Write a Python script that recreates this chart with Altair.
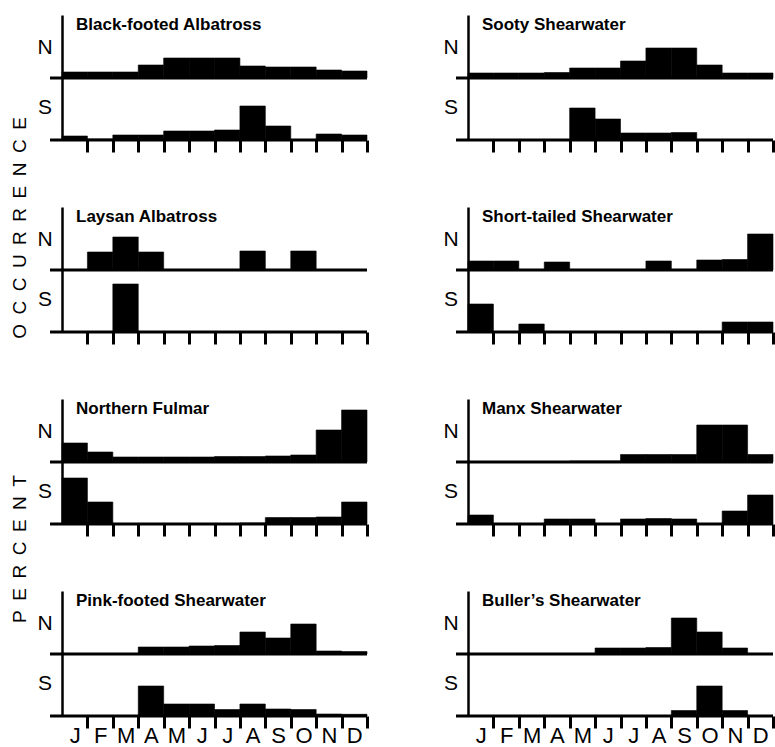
import altair as alt
import pandas as pd

# ---------------- data (percent occurrence by month, N and S) ----------------
MONTHS = ["J", "F", "M", "A", "M", "J", "J", "A", "S", "O", "N", "D"]

LEFT_SPECIES = ["Black-footed Albatross", "Laysan Albatross",
                "Northern Fulmar", "Pink-footed Shearwater"]
RIGHT_SPECIES = ["Sooty Shearwater", "Short-tailed Shearwater",
                 "Manx Shearwater", "Buller\u2019s Shearwater"]

BLACK_FOOTED_N = [6, 6, 6, 13, 20, 20, 20, 12, 11, 11, 8, 7]
BLACK_FOOTED_S = [4, 1, 5, 5, 9, 9, 10, 34, 14, 0.5, 6, 5]
LAYSAN_N = [0, 18, 33, 18, 0, 0, 0, 19, 0, 19, 0, 0]
LAYSAN_S = [0, 0, 48, 0, 0, 0, 0, 0, 0, 0, 0, 0]
FULMAR_N = [19, 10, 5, 5, 5, 5, 5.5, 5.5, 6, 7, 32, 52]
FULMAR_S = [46, 22, 0, 0, 0, 0, 0.5, 1, 6.5, 6.5, 7, 22]
PINK_FOOTED_N = [0, 0, 0.5, 7, 7, 8, 8.5, 22, 16, 30, 3, 2.5]
PINK_FOOTED_S = [0, 0, 0, 30, 12, 12, 6.5, 12, 7, 6.5, 2, 1.7]

SOOTY_N = [5, 5, 5, 5.5, 10, 10, 17, 30, 30, 13, 5, 5]
SOOTY_S = [0, 0, 0, 0, 32, 21, 7, 7, 7.5, 0, 0, 0]
SHORT_TAILED_N = [9, 9, 0, 8, 0, 0, 0, 9, 0, 10, 10.5, 36]
SHORT_TAILED_S = [28, 0, 8, 0, 0, 0, 0, 0, 0, 0, 10, 10]
MANX_N = [0, 0, 0, 0, 1, 1, 7.5, 7.5, 7.5, 37, 37, 7.5]
MANX_S = [9, 0, 0, 5, 5, 0, 5, 5.5, 5, 0, 13, 29]
BULLERS_N = [0, 0, 0, 0, 0.5, 6, 6, 6.5, 36, 22, 6, 0]
BULLERS_S = [0, 0, 0, 0, 0, 0, 0, 0, 5.5, 30, 5.5, 0]

SERIES = {
    "Black-footed Albatross": (BLACK_FOOTED_N, BLACK_FOOTED_S),
    "Laysan Albatross": (LAYSAN_N, LAYSAN_S),
    "Northern Fulmar": (FULMAR_N, FULMAR_S),
    "Pink-footed Shearwater": (PINK_FOOTED_N, PINK_FOOTED_S),
    "Sooty Shearwater": (SOOTY_N, SOOTY_S),
    "Short-tailed Shearwater": (SHORT_TAILED_N, SHORT_TAILED_S),
    "Manx Shearwater": (MANX_N, MANX_S),
    "Buller\u2019s Shearwater": (BULLERS_N, BULLERS_S),
}

# ---------------- layout constants ----------------
PANEL_W = 305
PANEL_H = 125
N_BASE = 62          # y units (≈ px) where the N baseline sits
Y_MAX = 125
FONT = "Liberation Sans"

month_expr = "[" + ",".join("'%s'" % m for m in MONTHS) + "][datum.value - 1]"

yaxis = alt.Axis(domain=True, domainColor="black", domainWidth=2.5, ticks=False,
                 labels=False, grid=False, title=None, minExtent=0)


def xaxis(bottom):
    kw = dict(values=list(range(1, 13)), domain=False, grid=False, ticks=True,
              tickSize=12, tickWidth=3, tickColor="black", title=None, minExtent=0)
    if bottom:
        kw.update(labels=True, labelExpr=month_expr, labelOffset=-12.7,
                  labelFontSize=22, labelFont=FONT, labelColor="black",
                  labelPadding=-3, labelOverlap=False, labelFlush=False,
                  labelBound=False)
    else:
        kw.update(labels=False)
    return alt.Axis(**kw)


def panel(name, bottom, extra_layers=()):
    n_vals, s_vals = SERIES[name]
    rows = []
    for region, vals in (("N", n_vals), ("S", s_vals)):
        for i, v in enumerate(vals):
            rows.append({"month": i, "region": region, "value": v})
    df = pd.DataFrame(rows)
    ax = xaxis(bottom)
    xscale = alt.Scale(domain=[0, 12], nice=False, zero=False)
    yscale = alt.Scale(domain=[0, Y_MAX], nice=False, zero=False)

    bars = alt.Chart(df).mark_bar(color="black", stroke="black", strokeWidth=0.6).transform_calculate(
        x0="datum.month",
        x1="datum.month + 1",
        y0="datum.region == 'N' ? %d : 0" % N_BASE,
        y1="(datum.region == 'N' ? %d : 0) + datum.value" % N_BASE,
    ).encode(
        x=alt.X("x0:Q", scale=xscale, axis=ax),
        x2="x1:Q",
        y=alt.Y("y0:Q", scale=yscale, axis=yaxis),
        y2="y1:Q",
    )

    base_df = pd.DataFrame({"yb": [0, N_BASE]})
    baselines = alt.Chart(base_df).mark_rule(color="black", strokeWidth=3, strokeCap="butt").encode(
        x=alt.value(-12),
        x2=alt.value(PANEL_W),
        y=alt.Y("yb:Q", scale=yscale, axis=yaxis),
    )

    title = alt.Chart(pd.DataFrame({"t": [name]})).mark_text(
        align="left", baseline="middle", font=FONT, fontSize=17, fontWeight="bold", color="black"
    ).encode(x=alt.value(14), y=alt.value(10), text="t:N")

    ns = alt.Chart(pd.DataFrame({"lab": ["N", "S"], "py": [33, 93]})).mark_text(
        align="center", baseline="middle", font=FONT, fontSize=21, color="black"
    ).encode(x=alt.value(-17), y=alt.Y("py:Q", scale=None), text="lab:N")

    return alt.layer(bars, baselines, title, ns, *extra_layers).properties(
        width=PANEL_W, height=PANEL_H)


def side_word(word, py):
    txt = "\u2002".join(word)
    return alt.Chart(pd.DataFrame({"w": [txt]})).mark_text(
        angle=270, align="center", baseline="middle", font=FONT, fontSize=19, color="black"
    ).encode(x=alt.value(-42), y=alt.value(py), text="w:N")


panels = []
for k in range(4):
    extra = []
    if k == 1:
        extra = [side_word("OCCURRENCE", 21)]
    if k == 2:
        extra = [side_word("PERCENT", 150)]
    panels.append(panel(LEFT_SPECIES[k], k == 3, extra))
    panels.append(panel(RIGHT_SPECIES[k], k == 3))

chart = alt.concat(*panels, columns=2, spacing={"row": 67, "column": 101},
                   bounds="flush").properties(
    padding={"left": 10, "top": 14, "right": 0, "bottom": 0},
    background="white",
).configure_view(stroke="transparent")

chart.save("out.html", embed_options={"renderer": "svg", "actions": False})
